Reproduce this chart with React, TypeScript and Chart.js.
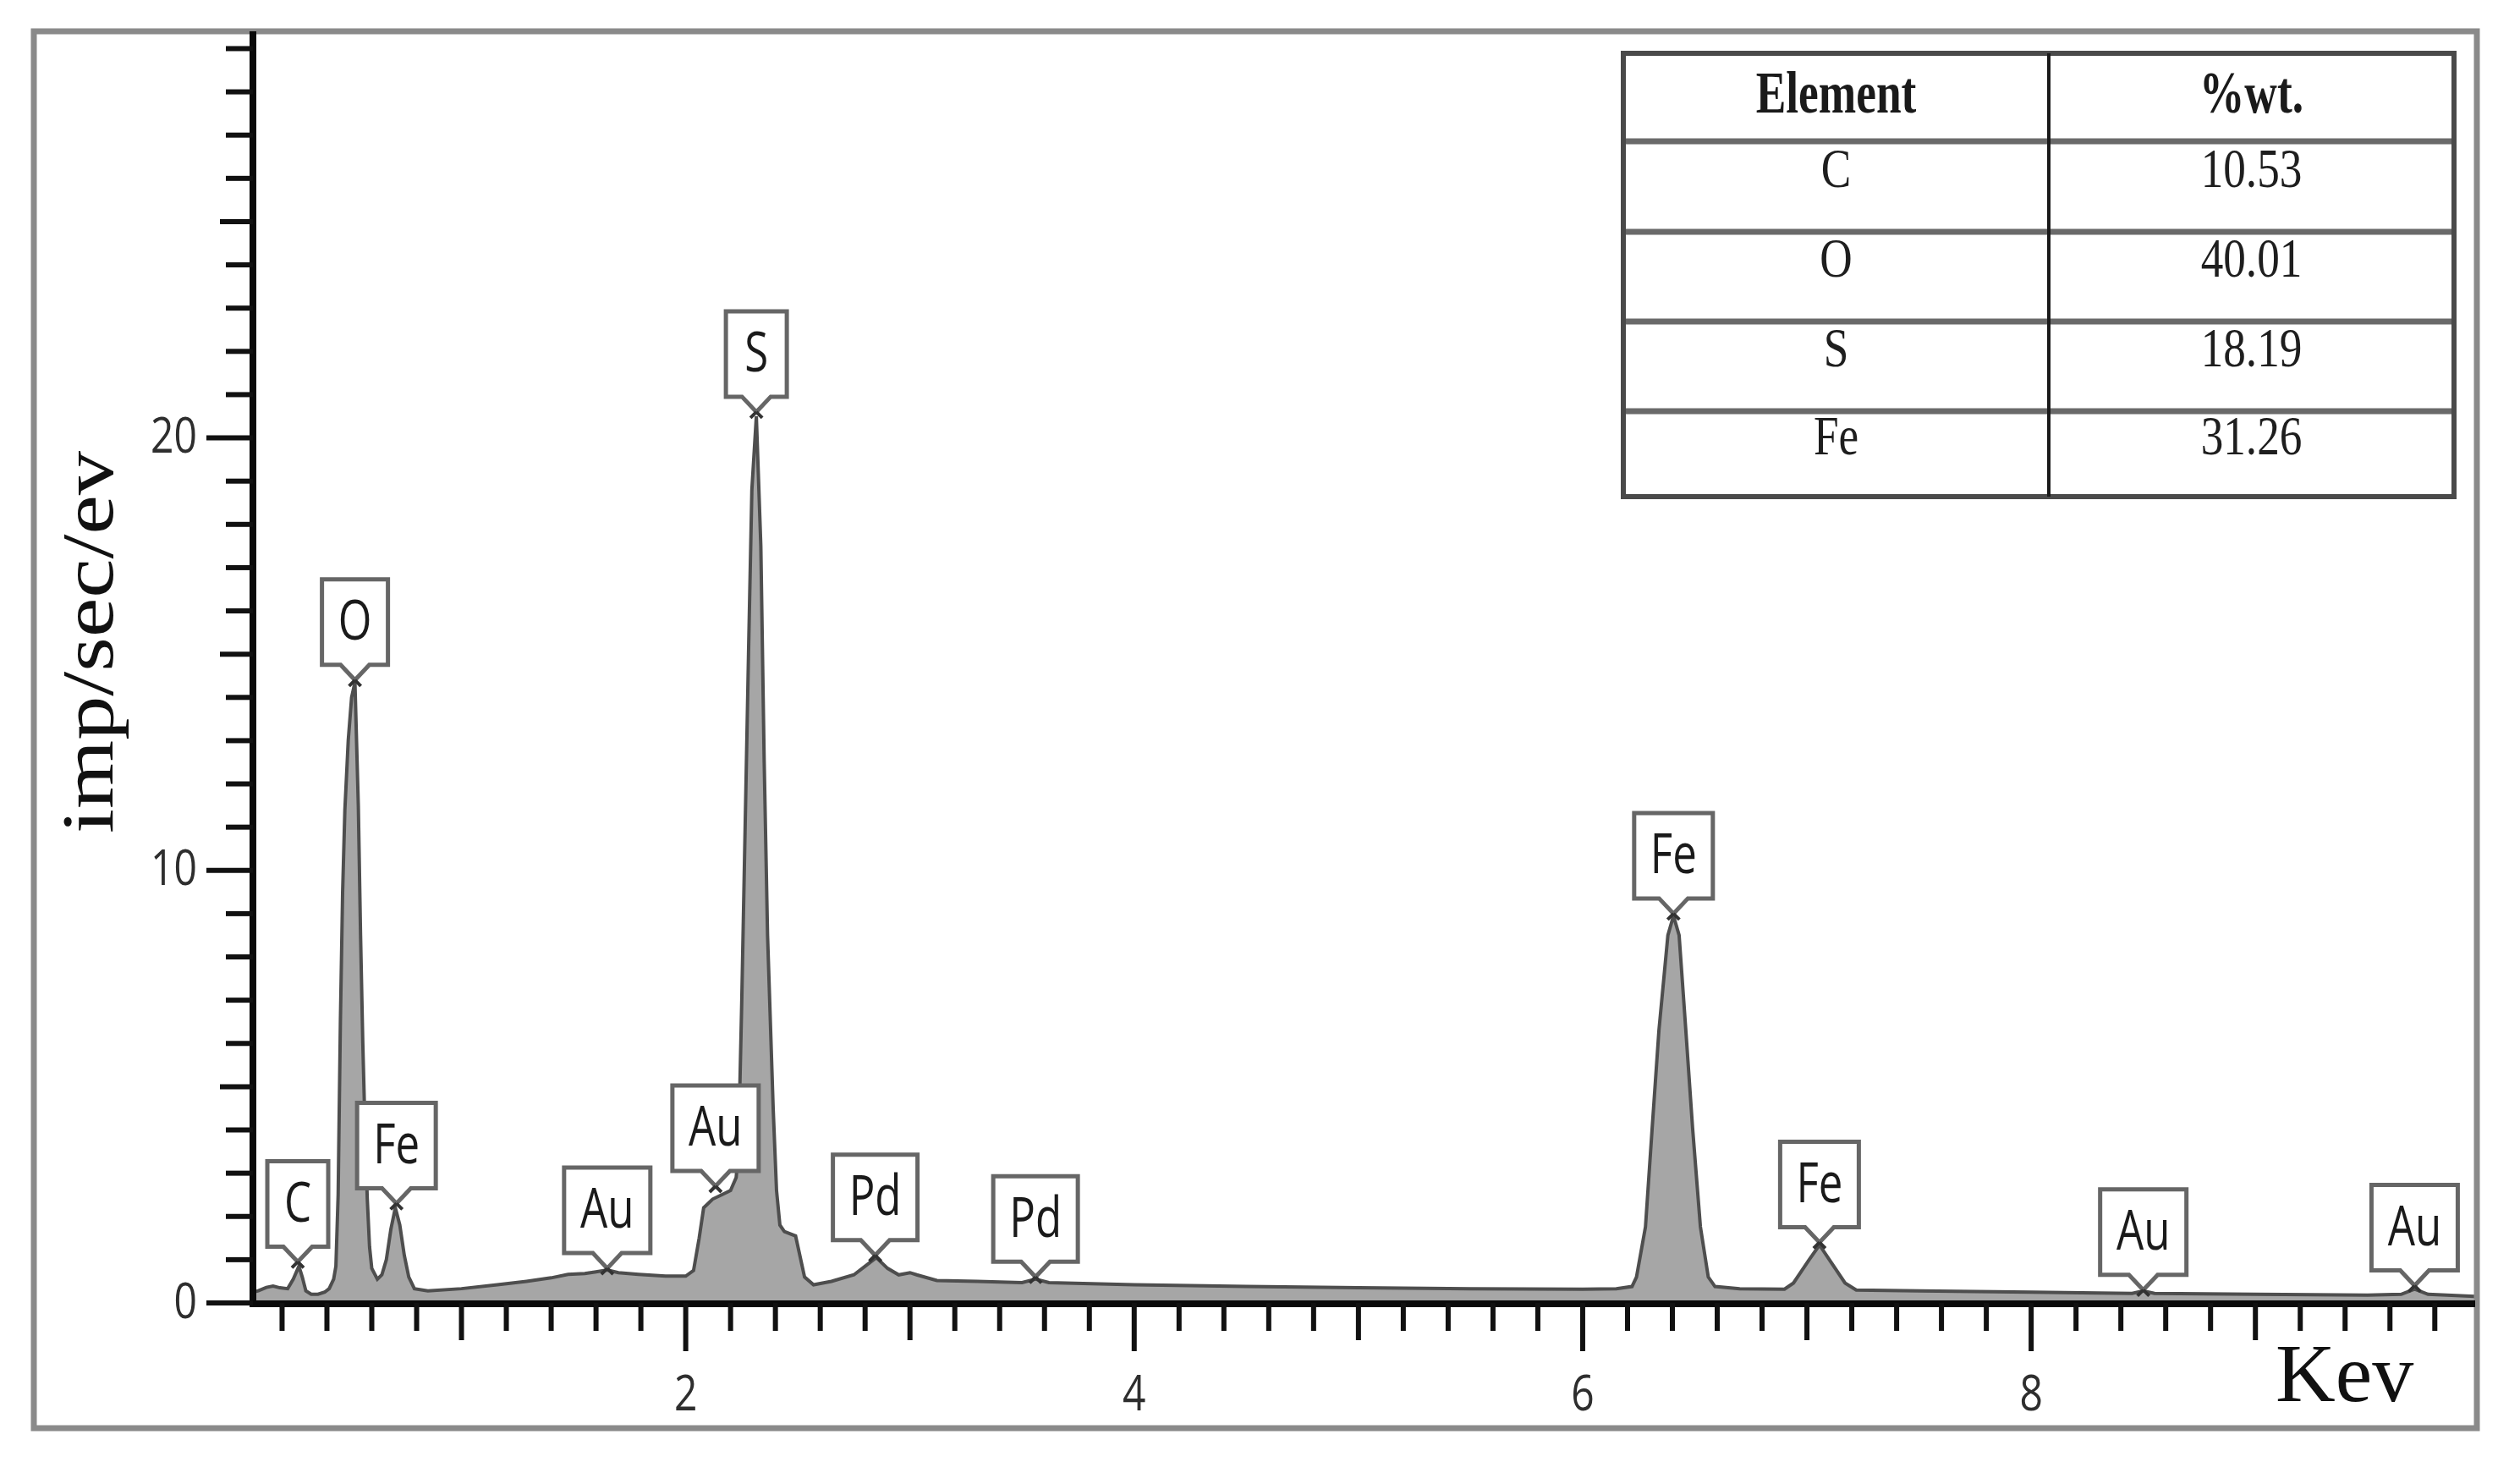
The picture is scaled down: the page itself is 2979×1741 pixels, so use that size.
import React, { useEffect, useRef } from 'react';
import { Chart, registerables } from 'chart.js';

Chart.register(...registerables);

// ---- spectrum (energy in keV, intensity in imp/sec/eV) ----
const KEV = [
  0.07, 0.094, 0.13, 0.16, 0.19, 0.225, 0.25, 0.275, 0.29, 0.306, 0.33, 0.36, 0.39, 0.41, 0.43, 0.44,
  0.45, 0.46, 0.47, 0.48, 0.495, 0.51, 0.525, 0.54, 0.55, 0.56, 0.57, 0.58, 0.59, 0.6, 0.625, 0.645,
  0.665, 0.685, 0.705, 0.725, 0.745, 0.765, 0.79, 0.85, 1.0, 1.16, 1.29, 1.4, 1.475, 1.55, 1.6, 1.65,
  1.7, 1.79, 1.91, 2.0, 2.035, 2.06, 2.08, 2.12, 2.16, 2.2, 2.225, 2.235, 2.25, 2.265, 2.28, 2.295, 2.315,
  2.335, 2.35, 2.365, 2.39, 2.405, 2.42, 2.44, 2.49, 2.53, 2.57, 2.65, 2.75, 2.8, 2.85, 2.9, 2.95, 3.0, 3.03,
  3.12, 3.3, 3.5, 3.56, 3.62, 4.0, 4.5, 5.0, 5.5, 6.0, 6.15, 6.22, 6.24, 6.28, 6.31, 6.34, 6.38, 6.405,
  6.43, 6.46, 6.49, 6.525, 6.56, 6.59, 6.7, 6.9, 6.94, 7.01, 7.056, 7.1, 7.17, 7.22, 7.5, 8.0, 8.45,
  8.5, 8.55, 9.0, 9.5, 9.65, 9.71, 9.77, 9.98,
];
const COUNTS = [
  0.25, 0.28, 0.36, 0.39, 0.35, 0.33, 0.55, 0.85, 0.6, 0.28, 0.2, 0.2, 0.25, 0.33, 0.55, 0.85,
  2.5, 6.5, 9.5, 11.4, 13.0, 14.0, 14.35, 11.5, 8.5, 6.0, 4.0, 2.4, 1.3, 0.8, 0.55, 0.65,
  1.0, 1.7, 2.2, 1.8, 1.1, 0.6, 0.33, 0.28, 0.33, 0.42, 0.5, 0.58, 0.66, 0.68, 0.72, 0.76,
  0.7, 0.66, 0.62, 0.62, 0.75, 1.5, 2.2, 2.4, 2.5, 2.6, 2.9, 3.5, 7.0, 11.0, 15.0, 18.8, 20.5,
  17.5, 12.5, 8.5, 4.5, 2.6, 1.8, 1.65, 1.55, 0.6, 0.42, 0.5, 0.65, 0.85, 1.05, 0.8, 0.65, 0.7, 0.65,
  0.52, 0.5, 0.47, 0.55, 0.47, 0.42, 0.38, 0.35, 0.33, 0.32, 0.33, 0.38, 0.6, 1.76, 4.05, 6.3, 8.5, 8.95,
  8.5, 6.3, 4.05, 1.76, 0.6, 0.38, 0.33, 0.32, 0.46, 1.0, 1.34, 1.0, 0.46, 0.3, 0.28, 0.25, 0.22,
  0.28, 0.22, 0.2, 0.18, 0.2, 0.32, 0.2, 0.15,
];

// ---- peak markers ----
const PEAK_ELEMENTS = ['C', 'O', 'Fe', 'Au', 'Au', 'S', 'Pd', 'Pd', 'Fe', 'Fe', 'Au', 'Au'];
const PEAK_KEV = [0.27, 0.525, 0.71, 1.65, 2.133, 2.315, 2.845, 3.56, 6.405, 7.056, 8.5, 9.71];
const PEAK_TIP = [0.95, 14.4, 2.3, 0.8, 2.7, 20.6, 1.1, 0.6, 9.0, 1.4, 0.3, 0.4];

// ---- composition table ----
const TABLE_HEADER = ['Element', '%wt.'];
const TABLE_ELEMENTS = ['C', 'O', 'S', 'Fe'];
const TABLE_WT = ['10.53', '40.01', '18.19', '31.26'];

// ---- axes ----
const X_TICK_LABELS = [2, 4, 6, 8];
const Y_TICK_LABELS = [0, 10, 20];
const X_MIN = 0.07;
const X_MAX = 9.98;
const Y_MAX = 29.4;
const X_MINOR_STEP = 0.2;
const Y_MINOR_STEP = 1;
const X_TITLE = 'Kev';
const Y_TITLE = 'imp/sec/ev';

const W = 2979;
const H = 1741;
const PLOT_LEFT = 299;
const PLOT_RIGHT = 2926;
const PLOT_TOP = 37;
const PLOT_BOTTOM = 1540;

function sText(
  ctx: CanvasRenderingContext2D, text: string, x: number, y: number, font: string, color: string,
  align: CanvasTextAlign, baseline: CanvasTextBaseline, sx = 1, sy = 1,
) {
  ctx.save();
  ctx.translate(x, y);
  ctx.scale(sx, sy);
  ctx.font = font;
  ctx.fillStyle = color;
  ctx.textAlign = align;
  ctx.textBaseline = baseline;
  ctx.fillText(text, 0, 0);
  ctx.restore();
}

const decorPlugin = {
  id: 'decor',
  afterDatasetsDraw(chart: any) {
    const ctx: CanvasRenderingContext2D = chart.ctx;
    const xs = chart.scales.x;
    const ys = chart.scales.y;
    const labelFont = '51px "Open Sans"';
    for (let i = 0; i < PEAK_ELEMENTS.length; i++) {
      const cx = xs.getPixelForValue(PEAK_KEV[i]);
      const tipY = ys.getPixelForValue(PEAK_TIP[i]);
      ctx.save();
      ctx.font = labelFont;
      const tw = ctx.measureText(PEAK_ELEMENTS[i]).width;
      ctx.restore();
      const bw = Math.max(72, Math.round(tw + 38));
      const bh = 101;
      const bottom = tipY - 18;
      const top = bottom - bh;
      const L = cx - bw / 2;
      const R = cx + bw / 2;
      const nh = 17;
      ctx.save();
      ctx.beginPath();
      ctx.moveTo(cx - nh, bottom);
      ctx.lineTo(L, bottom);
      ctx.lineTo(L, top);
      ctx.lineTo(R, top);
      ctx.lineTo(R, bottom);
      ctx.lineTo(cx + nh, bottom);
      ctx.lineTo(cx, tipY);
      ctx.closePath();
      ctx.fillStyle = '#ffffff';
      ctx.fill();
      ctx.strokeStyle = '#666666';
      ctx.lineWidth = 5;
      ctx.lineJoin = 'miter';
      ctx.stroke();
      ctx.beginPath();
      ctx.moveTo(cx, tipY);
      ctx.lineTo(cx - 7, tipY + 7);
      ctx.moveTo(cx, tipY);
      ctx.lineTo(cx + 7, tipY + 7);
      ctx.strokeStyle = '#333333';
      ctx.lineWidth = 4;
      ctx.stroke();
      ctx.restore();
      sText(ctx, PEAK_ELEMENTS[i], cx, top + bh / 2 + 2, labelFont, '#1a1a1a', 'center', 'middle', 1, 1.3);
    }
  },
  afterDraw(chart: any) {
    const ctx: CanvasRenderingContext2D = chart.ctx;
    const xs = chart.scales.x;
    const ys = chart.scales.y;
    const ca = chart.chartArea;

    // outer frame
    ctx.save();
    ctx.strokeStyle = '#8a8a8a';
    ctx.lineWidth = 7;
    ctx.strokeRect(40, 37, 2888, 1651);
    ctx.restore();

    // axis lines
    ctx.save();
    ctx.strokeStyle = '#0a0a0a';
    ctx.lineWidth = 8;
    ctx.beginPath();
    ctx.moveTo(ca.left, ca.top);
    ctx.lineTo(ca.left, ca.bottom + 5);
    ctx.moveTo(ca.left - 4, ca.bottom + 1);
    ctx.lineTo(ca.right, ca.bottom + 1);
    ctx.stroke();

    // x ticks
    ctx.lineWidth = 6;
    ctx.strokeStyle = '#111111';
    const nx = Math.floor(X_MAX / X_MINOR_STEP);
    for (let i = 1; i <= nx; i++) {
      const v = Math.round(i * X_MINOR_STEP * 10) / 10;
      if (v < X_MIN || v > X_MAX) continue;
      const px = xs.getPixelForValue(v);
      const isInt = Math.abs(v - Math.round(v)) < 1e-6;
      let len = 33;
      if (isInt && Math.round(v) % 2 === 0) len = 57;
      else if (isInt) len = 44;
      ctx.beginPath();
      ctx.moveTo(px, ca.bottom);
      ctx.lineTo(px, ca.bottom + len);
      ctx.stroke();
    }
    // y ticks
    for (let v = 0; v <= Y_MAX; v += Y_MINOR_STEP) {
      const py = ys.getPixelForValue(v);
      let len = 32;
      if (v % 10 === 0) len = 55;
      else if (v % 5 === 0) len = 39;
      ctx.beginPath();
      ctx.moveTo(ca.left, py);
      ctx.lineTo(ca.left - len, py);
      ctx.stroke();
    }
    ctx.restore();

    // tick labels
    const tickFont = '48px "Open Sans"';
    for (const v of X_TICK_LABELS) {
      sText(ctx, String(v), xs.getPixelForValue(v), 1667, tickFont, '#2e2e2e', 'center', 'alphabetic', 1, 1.22);
    }
    for (const v of Y_TICK_LABELS) {
      sText(ctx, String(v), 233, ys.getPixelForValue(v) + 1, tickFont, '#2e2e2e', 'right', 'middle', 1, 1.22);
    }

    // axis titles
    ctx.save();
    ctx.font = '86px "Liberation Serif"';
    const tw = ctx.measureText(Y_TITLE).width;
    ctx.translate(133, 759);
    ctx.rotate(-Math.PI / 2);
    ctx.scale(452 / tw, 1);
    ctx.fillStyle = '#111111';
    ctx.textAlign = 'center';
    ctx.textBaseline = 'alphabetic';
    ctx.fillText(Y_TITLE, 0, 0);
    ctx.restore();
    sText(ctx, X_TITLE, 2690, 1656, '98px "Liberation Serif"', '#111111', 'left', 'alphabetic');

    // composition table
    const tL = 1919, tR = 2901, tT = 63, tB = 587, tDiv = 2422;
    const rows = [tT, 167, 274, 380, 486, tB];
    ctx.save();
    ctx.fillStyle = '#ffffff';
    ctx.fillRect(tL, tT, tR - tL, tB - tT);
    ctx.strokeStyle = '#6a6a6a';
    ctx.lineWidth = 7;
    for (let r = 1; r < rows.length - 1; r++) {
      ctx.beginPath();
      ctx.moveTo(tL, rows[r]);
      ctx.lineTo(tR, rows[r]);
      ctx.stroke();
    }
    ctx.strokeStyle = '#4a4a4a';
    ctx.lineWidth = 6;
    ctx.strokeRect(tL, tT, tR - tL, tB - tT);
    ctx.strokeStyle = '#1a1a1a';
    ctx.lineWidth = 4;
    ctx.beginPath();
    ctx.moveTo(tDiv, tT);
    ctx.lineTo(tDiv, tB);
    ctx.stroke();
    ctx.restore();

    const c1 = (tL + tDiv) / 2;
    const c2 = (tDiv + tR) / 2;
    const headFont = 'bold 58px "Liberation Serif"';
    const cellFont = '56px "Liberation Serif"';
    const hy = (rows[0] + rows[1]) / 2;
    sText(ctx, TABLE_HEADER[0], c1, hy, headFont, '#1a1a1a', 'center', 'middle', 0.92, 1.2);
    sText(ctx, TABLE_HEADER[1], c2, hy, headFont, '#1a1a1a', 'center', 'middle', 0.92, 1.2);
    for (let r = 0; r < TABLE_ELEMENTS.length; r++) {
      const cy = (rows[r + 1] + rows[r + 2]) / 2 - 17;
      sText(ctx, TABLE_ELEMENTS[r], c1, cy, cellFont, '#1e1e1e', 'center', 'middle', 0.95, 1.18);
      sText(ctx, TABLE_WT[r], c2, cy, cellFont, '#1e1e1e', 'center', 'middle', 0.95, 1.18);
    }
  },
};

export default function App() {
  const canvasRef = useRef<HTMLCanvasElement | null>(null);

  useEffect(() => {
    document.body.style.margin = '0';
    document.body.style.overflow = 'hidden';
    const canvas = canvasRef.current;
    if (!canvas) return;
    const chart = new Chart(canvas, {
      type: 'line',
      data: {
        datasets: [
          {
            data: KEV.map((x, i) => ({ x, y: COUNTS[i] })),
            borderColor: '#4e4e4e',
            backgroundColor: '#a6a6a6',
            borderWidth: 4,
            fill: 'origin',
            pointRadius: 0,
            tension: 0,
          },
        ],
      },
      options: {
        animation: false,
        responsive: false,
        maintainAspectRatio: false,
        devicePixelRatio: 1,
        layout: { padding: { left: 0, top: PLOT_TOP, right: W - PLOT_RIGHT, bottom: 0 } },
        plugins: {
          legend: { display: false },
          tooltip: { enabled: false },
          title: { display: false },
        },
        scales: {
          x: {
            type: 'linear',
            min: X_MIN,
            max: X_MAX,
            grid: { display: false, drawTicks: false },
            border: { display: false },
            ticks: { display: false },
            afterFit: (s: any) => { s.height = H - PLOT_BOTTOM; },
          },
          y: {
            type: 'linear',
            min: 0,
            max: Y_MAX,
            grid: { display: false, drawTicks: false },
            border: { display: false },
            ticks: { display: false },
            afterFit: (s: any) => { s.width = PLOT_LEFT; },
          },
        },
      } as any,
      plugins: [decorPlugin],
    });
    return () => chart.destroy();
  }, []);

  return (
    <div style={{ position: 'absolute', left: 0, top: 0, width: W, height: H, background: '#ffffff' }}>
      <canvas ref={canvasRef} width={W} height={H} style={{ display: 'block', width: W, height: H }} />
    </div>
  );
}
